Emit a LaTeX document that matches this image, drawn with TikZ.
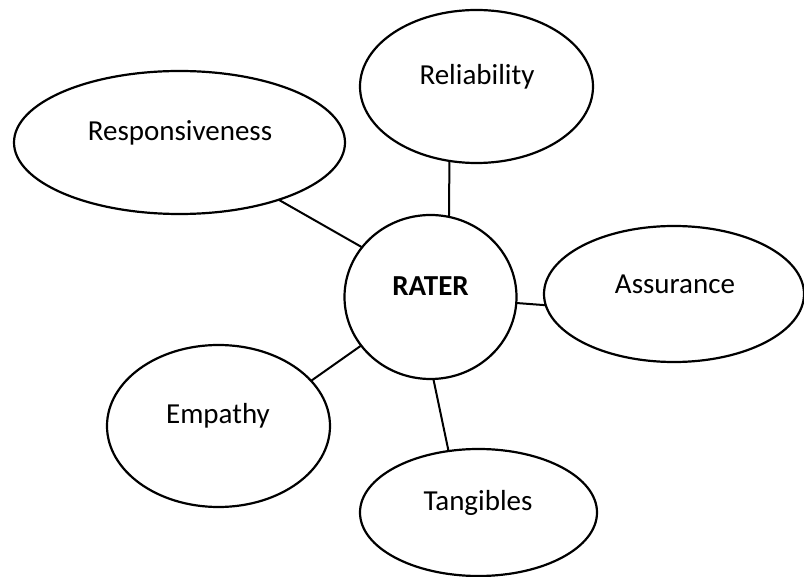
\documentclass[tikz,border=0pt]{standalone}
\usepackage{fontspec}
\setmainfont{Carlito}
\usetikzlibrary{shapes.geometric}
\begin{document}
\begin{tikzpicture}[x=1pt,y=-1pt,
  bubble/.style={draw=black, line width=2.2pt, ellipse, inner sep=0pt, outer sep=0pt, fill=white},
  lbl/.style={font=\fontsize{29}{34}\selectfont, inner sep=0pt},
  link/.style={draw=black, line width=2pt}]
\useasboundingbox (0,0) rectangle (804,577);
\fill[white] (0,0) rectangle (804,577);
\node[bubble, minimum width=172pt, minimum height=164pt] (rater) at (430.5,297) {};
\node[bubble, minimum width=331pt, minimum height=143pt] (resp) at (179.5,142.5) {};
\node[bubble, minimum width=233pt, minimum height=153pt] (rel) at (476.5,86.5) {};
\node[bubble, minimum width=260pt, minimum height=136pt] (ass) at (674,294) {};
\node[bubble, minimum width=223pt, minimum height=162pt] (emp) at (218.5,426) {};
\node[bubble, minimum width=237pt, minimum height=127pt] (tan) at (478.5,512.5) {};
\node[lbl, font=\fontsize{29}{34}\selectfont\bfseries] (traterl) at (430.5,286) {RATER};
\node[lbl] (tresp) at (180,133) {Responsiveness};
\node[lbl] (trel) at (477,77) {Reliability};
\node[lbl] (tass) at (675,284) {Assurance};
\node[lbl] (temp) at (218,416) {Empathy};
\node[lbl] (ttan) at (478,503) {Tangibles};
\draw[link] (rel.-110.4) -- (rater.77.4);
\draw[link] (resp.-30.4) -- (rater.144.8);
\draw[link] (ass.-175.6) -- (rater.-4.6);
\draw[link] (emp.26) -- (rater.-145);
\draw[link] (tan.116) -- (rater.-88.3);
\end{tikzpicture}
\end{document}
